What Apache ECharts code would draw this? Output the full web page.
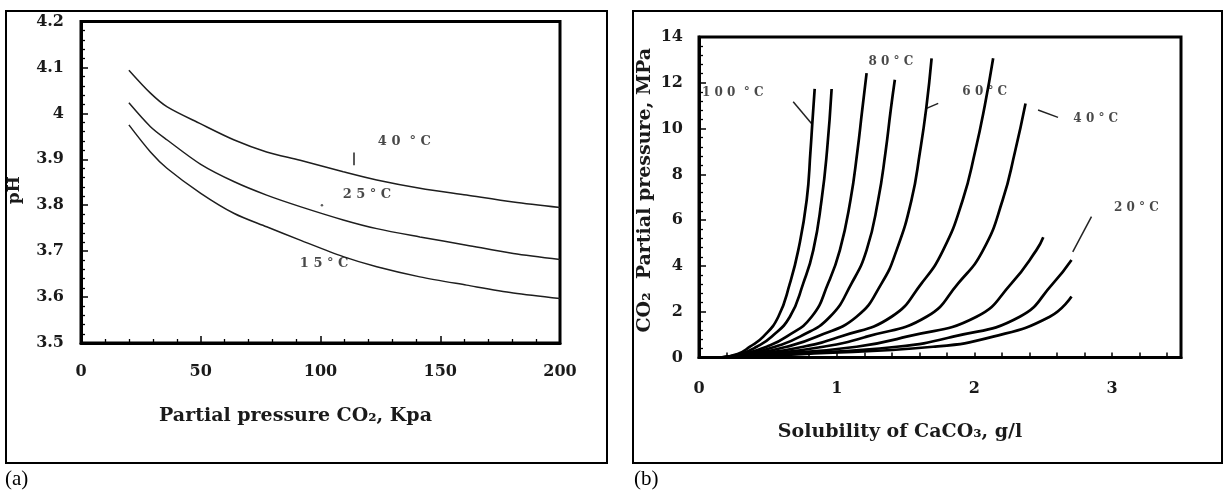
<!DOCTYPE html>
<html><head><meta charset="utf-8">
<script src="https://cdn.jsdelivr.net/npm/echarts@6/dist/echarts.min.js"></script>
<style>html,body{margin:0;padding:0;background:#fff}#c{width:1226px;height:494px}</style>
</head><body><div id="c"></div>
<script>
// ---------- Panel (a): pH vs CO2 partial pressure ----------
const pressureKpa = [20, 29, 36, 50, 64, 77.5, 91.5, 109.5, 123.5, 141.5, 161, 180.5, 200];
const ph40 = [4.094, 4.044, 4.014, 3.977, 3.942, 3.916, 3.898, 3.873, 3.855, 3.837, 3.822, 3.807, 3.795];
const ph25 = [4.023, 3.971, 3.942, 3.889, 3.851, 3.822, 3.797, 3.768, 3.749, 3.731, 3.713, 3.695, 3.682];
const ph15 = [3.975, 3.916, 3.880, 3.826, 3.782, 3.753, 3.724, 3.688, 3.666, 3.644, 3.626, 3.609, 3.597];
const labelsA = ['4 0  ° C', '2 5 ° C', '1 5 ° C'];
const labelAtA = [[135, 3.938], [119.4, 3.822], [101.5, 3.672]];
const leaderA = [[[114, 3.915], [114, 3.887]]];
const dotA = [[100.6, 3.800]];

// ---------- Panel (b): CO2 partial pressure vs CaCO3 solubility ----------
const sol1 = [0.17, 0.28, 0.37, 0.467, 0.576, 0.66, 0.721, 0.782, 0.81, 0.823, 0.84];
const pre1 = [0.02, 0.15, 0.47, 0.91, 1.78, 3.24, 4.69, 6.88, 9.06, 10.25, 11.73];
const sol2 = [0.18, 0.30, 0.419, 0.527, 0.66, 0.757, 0.83, 0.89, 0.93, 0.963];
const pre2 = [0.02, 0.15, 0.47, 0.91, 1.78, 3.24, 4.69, 6.88, 9.06, 11.73];
const sol3 = [0.19, 0.32, 0.491, 0.636, 0.818, 0.938, 1.023, 1.1, 1.15, 1.185, 1.217];
const pre3 = [0.02, 0.15, 0.47, 0.91, 1.78, 3.24, 4.69, 6.88, 9.0, 10.8, 12.42];
const sol4 = [0.2, 0.35, 0.552, 0.733, 0.951, 1.108, 1.217, 1.301, 1.355, 1.392, 1.422];
const pre4 = [0.02, 0.15, 0.47, 0.91, 1.78, 3.24, 4.69, 6.88, 9.0, 10.8, 12.13];
const sol5 = [0.21, 0.38, 0.636, 0.854, 1.144, 1.326, 1.435, 1.543, 1.605, 1.65, 1.689];
const pre5 = [0.02, 0.15, 0.47, 0.91, 1.78, 3.24, 4.69, 6.88, 9.0, 10.88, 13.07];
const sol6 = [0.22, 0.42, 0.757, 1.023, 1.398, 1.616, 1.773, 1.915, 2.005, 2.075, 2.136];
const pre6 = [0.02, 0.15, 0.47, 0.91, 1.78, 3.24, 4.69, 6.88, 9.0, 11.0, 13.07];
const sol7 = [0.23, 0.48, 0.902, 1.217, 1.652, 1.882, 2.063, 2.205, 2.295, 2.371];
const pre7 = [0.02, 0.15, 0.47, 0.91, 1.78, 3.24, 4.69, 6.88, 9.0, 11.1];
const sol8 = [0.24, 0.55, 1.144, 1.507, 2.015, 2.269, 2.45, 2.5];
const pre8 = [0.02, 0.15, 0.47, 0.91, 1.78, 3.24, 4.69, 5.25];
const sol9 = [0.25, 0.65, 1.435, 1.845, 2.329, 2.571, 2.705];
const pre9 = [0.02, 0.15, 0.47, 0.91, 1.78, 3.24, 4.26];
const sol10 = [0.26, 0.75, 1.70, 2.136, 2.547, 2.705];
const pre10 = [0.02, 0.15, 0.47, 0.91, 1.78, 2.66];
const labelsB = ['1 0 0  ° C', '8 0 ° C', '6 0 ° C', '4 0 ° C', '2 0 ° C'];
const labelAtB = [[0.245, 11.54], [1.393, 12.92], [2.075, 11.61], [2.881, 10.41], [3.176, 6.54]];
const leaderB = [
  [[0.684, 11.17], [0.82, 10.2]],
  [[1.652, 10.88], [1.737, 11.1]],
  [[2.462, 10.81], [2.607, 10.49]],
  [[2.85, 6.15], [2.714, 4.61]]
];

const FONT = 'DejaVu Serif';
const TXT = '#1a1a1a';
const zip = (a, b) => a.map((v, i) => [v, b[i]]);

function axisBase(extra) {
  return Object.assign({
    type: 'value',
    axisLine: { show: true, onZero: false, lineStyle: { color: '#000', width: 3 } },
    axisTick: { show: true, inside: true, length: 7, lineStyle: { color: '#000', width: 1.5 } },
    minorTick: { show: true, splitNumber: 5, length: 4, lineStyle: { color: '#000', width: 1.3 } },
    splitLine: { show: false },
    minorSplitLine: { show: false },
    axisLabel: { color: TXT, fontFamily: FONT, fontWeight: 'bold', fontSize: 16 },
    nameLocation: 'middle',
    nameTextStyle: { color: TXT, fontFamily: FONT, fontWeight: 'bold', fontSize: 19 }
  }, extra);
}

const chart = echarts.init(document.getElementById('c'), null, { renderer: 'canvas' });

const leftCurves = [ph40, ph25, ph15].map(arr => ({
  type: 'line', xAxisIndex: 0, yAxisIndex: 0, data: zip(pressureKpa, arr),
  smooth: 0.3, symbol: 'none', silent: true,
  lineStyle: { color: '#1e1e1e', width: 1.5 }
}));

const rightPairs = [[sol1, pre1], [sol2, pre2], [sol3, pre3], [sol4, pre4], [sol5, pre5],
                    [sol6, pre6], [sol7, pre7], [sol8, pre8], [sol9, pre9], [sol10, pre10]];
const rightCurves = rightPairs.map(([s, p]) => ({
  type: 'line', xAxisIndex: 1, yAxisIndex: 1, data: zip(s, p),
  smooth: 0.5, symbol: 'none', silent: true,
  lineStyle: { color: '#000', width: 2.7 }
}));

const labelStyle = (size) => ({
  show: true, position: 'inside', formatter: p => p.name,
  color: TXT, fontFamily: FONT, fontWeight: 'bold', fontSize: size
});

chart.setOption({
  animation: false,
  backgroundColor: '#fff',
  grid: [
    { left: 81, top: 21.5, width: 479, height: 321.5, show: true, borderColor: '#000', borderWidth: 3, backgroundColor: 'transparent' },
    { left: 699, top: 37, width: 482, height: 320.5, show: true, borderColor: '#000', borderWidth: 3, backgroundColor: 'transparent' }
  ],
  xAxis: [
    axisBase({
      gridIndex: 0, min: 0, max: 200, interval: 50,
      axisLabel: { color: TXT, fontFamily: FONT, fontWeight: 'bold', fontSize: 16, margin: 21 },
      name: 'Partial pressure CO₂, Kpa', nameGap: 64,
      nameTextStyle: { color: TXT, fontFamily: FONT, fontWeight: 'bold', fontSize: 19, padding: [0, 50, 0, 0] }
    }),
    axisBase({
      gridIndex: 1, min: 0, max: 3.5, interval: 0.2,
      minorTick: { show: false },
      axisTick: { show: true, inside: true, length: 5, lineStyle: { color: '#000', width: 1.5 } },
      axisLabel: {
        color: TXT, fontFamily: FONT, fontWeight: 'bold', fontSize: 16, margin: 23,
        formatter: v => Math.abs(v - Math.round(v)) < 1e-6 ? String(Math.round(v)) : ''
      },
      name: 'Solubility of CaCO₃, g/l', nameGap: 65,
      nameTextStyle: { color: TXT, fontFamily: FONT, fontWeight: 'bold', fontSize: 19, padding: [0, 80, 0, 0] }
    })
  ],
  yAxis: [
    axisBase({
      gridIndex: 0, min: 3.5, max: 4.2, interval: 0.1,
      axisLabel: { color: TXT, fontFamily: FONT, fontWeight: 'bold', fontSize: 16, margin: 17 },
      name: 'pH', nameRotate: 90, nameGap: 58,
      nameTextStyle: { color: TXT, fontFamily: FONT, fontWeight: 'bold', fontSize: 17, padding: [0, 16, 0, 0] }
    }),
    axisBase({
      gridIndex: 1, min: 0, max: 14, interval: 2,
      axisLabel: { color: TXT, fontFamily: FONT, fontWeight: 'bold', fontSize: 16, margin: 16 },
      name: 'CO₂  Partial pressure, MPa', nameRotate: 90, nameGap: 44,
      nameTextStyle: { color: TXT, fontFamily: FONT, fontWeight: 'bold', fontSize: 19, padding: [0, 0, 0, 14] }
    })
  ],
  series: [
    ...leftCurves,
    ...rightCurves,
    {
      type: 'scatter', xAxisIndex: 0, yAxisIndex: 0, silent: true, symbolSize: 1,
      itemStyle: { color: 'transparent' }, label: labelStyle(13),
      data: labelsA.map((t, i) => ({ name: t, value: labelAtA[i] }))
    },
    {
      type: 'scatter', xAxisIndex: 1, yAxisIndex: 1, silent: true, symbolSize: 1,
      itemStyle: { color: 'transparent' }, label: labelStyle(12),
      data: labelsB.map((t, i) => ({ name: t, value: labelAtB[i] }))
    },
    {
      type: 'scatter', xAxisIndex: 0, yAxisIndex: 0, silent: true, symbolSize: 2.5,
      itemStyle: { color: '#333' }, data: dotA
    },
    {
      type: 'lines', coordinateSystem: 'cartesian2d', xAxisIndex: 0, yAxisIndex: 0, silent: true,
      lineStyle: { color: '#222', width: 1.5, opacity: 1 },
      data: leaderA.map(c => ({ coords: c }))
    },
    {
      type: 'lines', coordinateSystem: 'cartesian2d', xAxisIndex: 1, yAxisIndex: 1, silent: true,
      lineStyle: { color: '#222', width: 1.5, opacity: 1 },
      data: leaderB.map(c => ({ coords: c }))
    }
  ],
  graphic: [
    { type: 'rect', shape: { x: 6, y: 11, width: 601, height: 452 }, style: { fill: 'none', stroke: '#000', lineWidth: 2 }, silent: true },
    { type: 'rect', shape: { x: 633, y: 11, width: 589, height: 452 }, style: { fill: 'none', stroke: '#000', lineWidth: 2 }, silent: true },
    { type: 'text', left: 5, top: 469, style: { text: '(a)', font: '21px "Liberation Serif"', fill: '#000' }, silent: true },
    { type: 'text', left: 634, top: 469, style: { text: '(b)', font: '21px "Liberation Serif"', fill: '#000' }, silent: true }
  ]
});
</script></body></html>
